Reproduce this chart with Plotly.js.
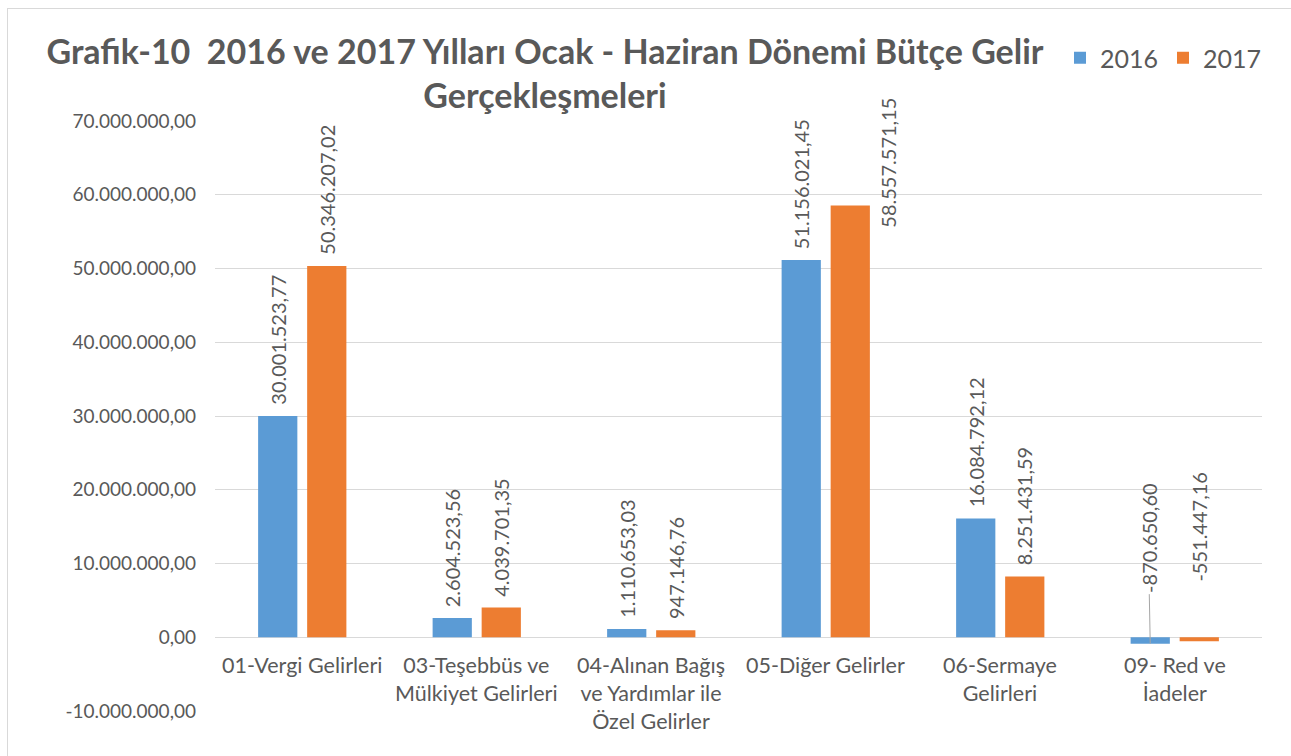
<!DOCTYPE html>
<html>
<head>
<meta charset="utf-8">
<script src="https://cdn.plot.ly/plotly-3.0.1.min.js"></script>
<style>
  html, body { margin: 0; padding: 0; background: #fff; }
  #wrap { position: relative; width: 1291px; height: 756px; overflow: hidden; }
  #chart { width: 1291px; height: 756px; }
  #frame { position: absolute; left: 7px; top: 8px; width: 1300px; height: 770px; border: 1px solid #d9d9d9; pointer-events: none; }
</style>
</head>
<body>
<div id="wrap"><div id="chart"></div><div id="frame"></div></div>
<script>
const categories = ["01-Vergi Gelirleri", "03-Teşebbüs ve<br>Mülkiyet Gelirleri", "04-Alınan Bağış<br>ve Yardımlar ile<br>Özel Gelirler", "05-Diğer Gelirler", "06-Sermaye<br>Gelirleri", "09- Red ve<br>İadeler"];
const seriesNames = ["2016", "2017"];
const values2016 = [30001523.77, 2604523.56, 1110653.03, 51156021.45, 16084792.12, -870650.60];
const values2017 = [50346207.02, 4039701.35, 947146.76, 58557571.15, 8251431.59, -551447.16];
const yTickVals = [-10000000, 0, 10000000, 20000000, 30000000, 40000000, 50000000, 60000000, 70000000];

const FONT = "Lato, Carlito, Calibri, 'Open Sans', sans-serif";
const GREY = "#595959";
const colors = ["#5b9bd5", "#ed7d31"];
const bargap = 0.438;

function fmt(v) {
  const neg = v < 0;
  const parts = Math.abs(v).toFixed(2).split(".");
  const intPart = parts[0].replace(/\B(?=(\d{3})+(?!\d))/g, ".");
  return (neg ? "-" : "") + intPart + "," + parts[1];
}

const xIdx = categories.map((c, i) => i);
const traces = [values2016, values2017].map((vals, s) => ({
  type: "bar",
  name: seriesNames[s],
  x: xIdx,
  y: vals,
  marker: { color: colors[s] },
  hoverinfo: "skip"
}));

const slotHalf = (1 - bargap) / 4;
const annotations = [];
[values2016, values2017].forEach((vals, s) => {
  vals.forEach((v, i) => {
    const ann = {
      x: i + (s === 0 ? -slotHalf : slotHalf),
      y: v,
      xref: "x", yref: "y",
      text: fmt(v),
      textangle: -90,
      showarrow: false,
      font: { family: FONT, size: 20, color: GREY },
      xanchor: "center",
      yanchor: "bottom",
      yshift: 9
    };
    if (v < 0) {
      if (s === 0) {
        ann.showarrow = true;
        ann.arrowhead = 0;
        ann.arrowwidth = 1;
        ann.arrowcolor = "#a6a6a6";
        ann.standoff = 0;
        ann.ax = -2;
        ann.ay = -106;
        ann.yshift = 0;
        delete ann.xanchor; delete ann.yanchor;
      } else {
        ann.yshift = 58;
      }
    } else if (s === 1 && i === 3) {
      ann.xshift = 38;
      ann.yshift = -24;
    }
    annotations.push(ann);
  });
});
categories.forEach((c, i) => {
  annotations.push({
    x: i, y: 0, xref: "x", yref: "y",
    text: c, showarrow: false,
    font: { family: FONT, size: 21.5, color: GREY },
    xanchor: "center", yanchor: "top", yshift: -13,
    align: "center"
  });
});

const layout = {
  width: 1291, height: 756,
  margin: { l: 215, r: 29, t: 121, b: 45 },
  paper_bgcolor: "#ffffff",
  plot_bgcolor: "#ffffff",
  separators: ",.",
  barmode: "group",
  bargap: bargap,
  bargroupgap: 0.2,
  title: {
    text: "Grafik-10  2016 ve 2017 Yılları Ocak - Haziran Dönemi Bütçe Gelir<br>Gerçekleşmeleri",
    font: { family: FONT, size: 34, color: GREY, weight: "bold" },
    x: 545 / 1291, xref: "container", xanchor: "center",
    y: 1 - 64 / 756, yref: "container", yanchor: "top"
  },
  xaxis: {
    type: "linear",
    range: [-0.5, categories.length - 0.5],
    showticklabels: false,
    showgrid: false,
    zeroline: false,
    showline: false,
    ticks: ""
  },
  yaxis: {
    range: [-10000000, 70000000],
    tickmode: "array",
    tickvals: yTickVals,
    ticktext: yTickVals.map(fmt),
    showgrid: true,
    gridcolor: "#d9d9d9",
    gridwidth: 1,
    zeroline: true,
    zerolinecolor: "#d9d9d9",
    zerolinewidth: 1,
    showline: false,
    ticks: "",
    ticklabelstandoff: 18,
    tickfont: { family: FONT, size: 19, color: GREY },
    automargin: false
  },
  legend: {
    orientation: "h",
    x: (1060 - 215) / 1047, xanchor: "left",
    y: (711 - 58) / 590, yanchor: "middle",
    font: { family: FONT, size: 25, color: GREY },
    itemwidth: 30,
    traceorder: "normal"
  },
  annotations: annotations,
  showlegend: true
};

Plotly.newPlot("chart", traces, layout, { displayModeBar: false, staticPlot: true });
</script>
</body>
</html>
